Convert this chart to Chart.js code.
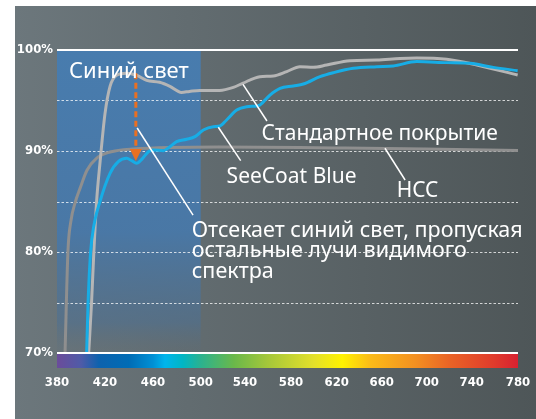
<!DOCTYPE html>
<html>
<head>
<meta charset="utf-8">
<script src="https://cdn.jsdelivr.net/npm/chart.js@4.4.1/dist/chart.umd.min.js"></script>
<style>
  html, body { margin: 0; padding: 0; background: #fff; }
  canvas { display: block; }
</style>
</head>
<body>
<canvas id="spectrumChart" width="536" height="419"></canvas>
<script>
// ---- данные ----
const xTicks = [380, 420, 460, 500, 540, 580, 620, 660, 700, 740, 780];
const yLabelValues = [70, 80, 90, 100];

// Стандартное покрытие
const standardNm  = [406.4, 408.8, 410.7, 413.0, 415.8, 420.0, 424.2, 429.7, 437.9, 446.3, 454.7, 465.5, 474.2, 483.9, 490.6, 499.3, 517.0, 529.5, 537.8, 552.9, 564.6, 576.3, 587.8, 599.5, 611.2, 631.8, 655.6, 676.3, 691.1, 717.8, 744.4, 779.7];
const standardVal = [70, 75, 80, 85, 88.8, 93.7, 96.4, 97.5, 97.7, 97.5, 97.0, 96.8, 96.4, 95.8, 95.9, 96.0, 96.0, 96.3, 96.7, 97.36, 97.43, 97.86, 98.35, 98.28, 98.51, 98.94, 99.01, 99.17, 99.21, 99.08, 98.51, 97.52];

// SeeCoat Blue
const seecoatNm  = [404.7, 405.9, 408.0, 410.7, 415.8, 424.2, 431.1, 438.1, 442.2, 446.4, 450.6, 456.1, 460.3, 468.7, 474.2, 479.8, 488.2, 495.2, 502.4, 511.4, 517.4, 523.4, 532.5, 541.5, 550.2, 553.0, 561.7, 570.5, 582.0, 590.8, 605.4, 617.0, 634.7, 655.6, 670.3, 691.1, 717.8, 738.6, 758.7, 779.7];
const seecoatVal = [70, 75, 80, 82.6, 85, 87.79, 88.94, 89.27, 89.04, 88.78, 89.17, 89.93, 90.1, 90.03, 90.43, 90.92, 91.16, 91.42, 92.08, 92.41, 92.48, 93.07, 94.06, 94.39, 94.46, 94.55, 95.54, 96.2, 96.44, 96.63, 97.36, 97.75, 98.19, 98.35, 98.42, 98.85, 98.75, 98.68, 98.28, 97.95];

// HCC
const hccNm  = [386.7, 389.1, 391.5, 395.4, 399.2, 405.0, 413.1, 424.2, 443.4, 516, 617, 699, 780];
const hccVal = [70, 80, 83, 85, 86.3, 88.1, 89.3, 89.9, 90.2, 90.4, 90.3, 90.2, 90.05];

const blueBand = [380, 500];          // зона синего света, нм
const arrowNm = 445.7;                // оранжевая стрелка
const arrowFrom = 97.7, arrowTo = 89.0;

// цвета полосы спектра
const spectrumNm    = [380, 400, 415, 440, 460, 470, 485, 500, 530, 560, 600, 625, 650, 690, 720, 760, 780];
const spectrumColor = ['#6b4c9a', '#4f5ba8', '#0d62ae', '#006cb5', '#0090d5', '#00b5ec', '#00b6c4', '#2bb28f', '#6ab84a', '#a5c73a', '#e3e02a', '#fff200', '#fbbb18', '#f39021', '#ea6426', '#e03a2c', '#d72130'];

// подписи: [текст, нм, % (базовая линия), кегль]
const labels = [
  ['Синий свет', 390.0, 97.23, 22],
  ['Стандартное покрытие', 554.4, 91.09, 21],
  ['SeeCoat Blue', 523.4, 86.83, 21],
  ['HCC', 673.3, 85.48, 21],
  ['Отсекает синий свет, пропуская', 492.5, 81.51, 21.5],
  ['остальные лучи видимого', 492.5, 79.46, 21.5],
  ['спектра', 492.5, 77.40, 21.5]
];
// выноски: [нм1, %1, нм2, %2]
const leaders = [
  [446.8, 92.28, 493.6, 83.66],
  [538.2, 96.6, 559.1, 92.97],
  [515.9, 92.35, 536.1, 89.04],
  [662.9, 90.27, 680.8, 87.13]
];

// шкала на оригинале чуть неравномерная: относительная ширина интервалов между метками
const tickGapWeights = [48, 48, 47.7, 44.3, 46, 45.7, 45, 45, 45, 46.3];

const zip = (xs, ys) => xs.map((x, i) => ({ x: x, y: ys[i] }));
const narrowFont = '"Liberation Sans Narrow", "Arial Narrow", "DejaVu Sans Condensed", sans-serif';
const textFont = '"Noto Sans", "Open Sans", sans-serif';

const gapTotal = tickGapWeights.reduce((a, b) => a + b, 0);
const gapStart = tickGapWeights.map((w, i) => tickGapWeights.slice(0, i).reduce((a, b) => a + b, 0));

class WarpedScale extends Chart.LinearScale {
  getPixelForValue(value) {
    if (value === null || isNaN(value)) return NaN;
    let i = 0;
    while (i < xTicks.length - 2 && value > xTicks[i + 1]) i++;
    const t = (value - xTicks[i]) / (xTicks[i + 1] - xTicks[i]);
    return this.getPixelForDecimal((gapStart[i] + t * tickGapWeights[i]) / gapTotal);
  }
  getValueForPixel(pixel) {
    const d = this.getDecimalForPixel(pixel) * gapTotal;
    let i = 0;
    while (i < tickGapWeights.length - 1 && d > gapStart[i + 1]) i++;
    return xTicks[i] + (d - gapStart[i]) / tickGapWeights[i] * (xTicks[i + 1] - xTicks[i]);
  }
}
WarpedScale.id = 'warped';
WarpedScale.defaults = Chart.LinearScale.defaults;
Chart.register(WarpedScale);

const decor = {
  id: 'decor',
  beforeDraw(chart) {
    const { ctx, width, height } = chart;
    const x = chart.scales.x, y = chart.scales.y;
    ctx.save();
    ctx.fillStyle = '#fff';
    ctx.fillRect(0, 0, width, height);
    const bg = ctx.createLinearGradient(15, 0, width, 0);
    bg.addColorStop(0, '#6c777c');
    bg.addColorStop(1, '#4e5658');
    ctx.fillStyle = bg;
    ctx.fillRect(15, 6, width - 15, height - 6);

    // синяя зона
    const x0 = x.getPixelForValue(blueBand[0]), x1 = x.getPixelForValue(blueBand[1]);
    const yt = y.getPixelForValue(100), yb = y.getPixelForValue(70);
    const bl = ctx.createLinearGradient(0, yt, 0, yb);
    bl.addColorStop(0, 'rgba(72,124,174,1)');
    bl.addColorStop(0.6, 'rgba(72,120,168,0.95)');
    bl.addColorStop(0.9, 'rgba(78,112,145,0.6)');
    bl.addColorStop(1, 'rgba(90,110,125,0.1)');
    ctx.fillStyle = bl;
    ctx.fillRect(x0, yt, x1 - x0, yb - yt);

    // сетка
    const left = chart.chartArea.left, right = chart.chartArea.right;
    ctx.strokeStyle = 'rgba(255,255,255,0.75)';
    ctx.lineWidth = 1;
    ctx.setLineDash([2.5, 2]);
    [75, 80, 85, 90, 95].forEach(v => {
      const py = Math.round(y.getPixelForValue(v)) + 0.5;
      ctx.beginPath(); ctx.moveTo(left, py); ctx.lineTo(right, py); ctx.stroke();
    });
    ctx.setLineDash([]);
    ctx.strokeStyle = '#fff';
    ctx.lineWidth = 2;
    const p100 = y.getPixelForValue(100);
    ctx.beginPath(); ctx.moveTo(left, p100); ctx.lineTo(right, p100); ctx.stroke();
    ctx.restore();
  },
  afterDraw(chart) {
    const { ctx } = chart;
    const x = chart.scales.x, y = chart.scales.y;
    const left = chart.chartArea.left, right = chart.chartArea.right;
    ctx.save();

    // полоса спектра
    const yb = y.getPixelForValue(70);
    const sg = ctx.createLinearGradient(left, 0, right, 0);
    spectrumNm.forEach((nm, i) => sg.addColorStop((x.getPixelForValue(nm) - left) / (right - left), spectrumColor[i]));
    ctx.fillStyle = sg;
    ctx.fillRect(left, yb, right - left, 15);
    ctx.strokeStyle = '#fff';
    ctx.lineWidth = 2;
    ctx.beginPath(); ctx.moveTo(left, yb); ctx.lineTo(right, yb); ctx.stroke();

    // стрелка
    const ax = x.getPixelForValue(arrowNm);
    const aTop = y.getPixelForValue(arrowFrom), aTip = y.getPixelForValue(arrowTo);
    ctx.strokeStyle = '#ea7022';
    ctx.fillStyle = '#ea7022';
    ctx.lineWidth = 3;
    ctx.setLineDash([6, 3.5]);
    ctx.beginPath(); ctx.moveTo(ax, aTop); ctx.lineTo(ax, aTip - 11); ctx.stroke();
    ctx.setLineDash([]);
    ctx.beginPath();
    ctx.moveTo(ax - 6, aTip - 12);
    ctx.lineTo(ax + 6, aTip - 12);
    ctx.lineTo(ax, aTip);
    ctx.closePath(); ctx.fill();

    // выноски
    ctx.strokeStyle = '#fff';
    ctx.lineWidth = 1.5;
    leaders.forEach(l => {
      ctx.beginPath();
      ctx.moveTo(x.getPixelForValue(l[0]), y.getPixelForValue(l[1]));
      ctx.lineTo(x.getPixelForValue(l[2]), y.getPixelForValue(l[3]));
      ctx.stroke();
    });

    // подписи
    ctx.fillStyle = '#fff';
    ctx.textBaseline = 'alphabetic';
    ctx.textAlign = 'left';
    labels.forEach(t => {
      ctx.font = t[3] + 'px ' + textFont;
      ctx.fillText(t[0], x.getPixelForValue(t[1]), y.getPixelForValue(t[2]));
    });
    ctx.restore();
  }
};

new Chart(document.getElementById('spectrumChart'), {
  type: 'line',
  data: {
    datasets: [
      { label: 'SeeCoat Blue', data: zip(seecoatNm, seecoatVal), borderColor: '#17ade6', borderWidth: 3 },
      { label: 'Стандартное покрытие', data: zip(standardNm, standardVal), borderColor: '#b5b5b5', borderWidth: 3 },
      { label: 'HCC', data: zip(hccNm, hccVal), borderColor: '#8f8f8f', borderWidth: 3 }
    ]
  },
  options: {
    responsive: false,
    animation: false,
    devicePixelRatio: 1,
    layout: { padding: { top: 50, right: 18, left: 0, bottom: 0 } },
    elements: {
      point: { radius: 0 },
      line: { cubicInterpolationMode: 'monotone', fill: false }
    },
    scales: {
      x: {
        type: 'warped',
        min: 380,
        max: 780,
        afterBuildTicks: scale => { scale.ticks = xTicks.map(v => ({ value: v })); },
        afterFit: scale => {
          scale.height = 66;
          scale.paddingLeft = 0; scale.paddingRight = 0;
        },
        ticks: { color: '#fff', padding: 22, maxRotation: 0, autoSkip: false, font: { family: narrowFont, size: 13, weight: 'bold' } },
        grid: { display: false, drawTicks: false },
        border: { display: false }
      },
      y: {
        min: 70,
        max: 100,
        afterBuildTicks: scale => { scale.ticks = yLabelValues.map(v => ({ value: v })); },
        afterFit: scale => {
          scale.width = 57;
          scale.paddingTop = 0; scale.paddingBottom = 0;
        },
        ticks: { color: '#fff', padding: 4, callback: v => v + '%', font: { family: narrowFont, size: 13, weight: 'bold' } },
        grid: { display: false, drawTicks: false },
        border: { display: false }
      }
    },
    plugins: {
      legend: { display: false },
      tooltip: { enabled: false }
    }
  },
  plugins: [decor]
});
</script>
</body>
</html>
